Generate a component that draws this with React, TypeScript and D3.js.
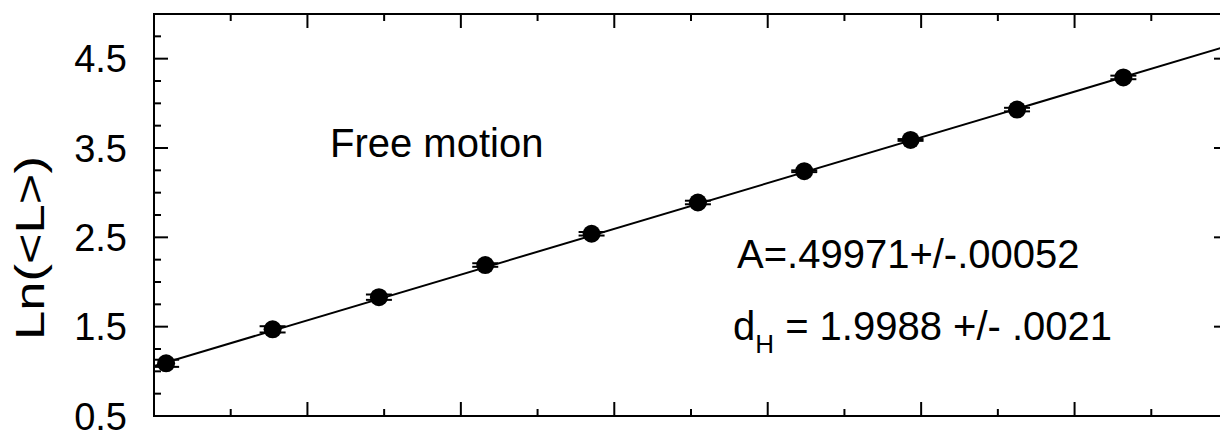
import { useEffect } from 'react';
import * as d3 from 'd3';

// ln(N) positions and measured ln(<L>) with their (tiny) errors
const lnN = [2.079, 2.773, 3.466, 4.159, 4.852, 5.545, 6.238, 6.931, 7.625, 8.318];
const lnL = [1.09, 1.47, 1.83, 2.19, 2.54, 2.89, 3.24, 3.59, 3.93, 4.29];
const lnLErr = [0.04, 0.035, 0.03, 0.02, 0.02, 0.02, 0.01, 0.01, 0.02, 0.02];

// straight-line fit drawn over the points
const fitIntercept = 0.035;
const fitSlope = 0.512;

const yMajorTicks = [0.5, 1.5, 2.5, 3.5, 4.5];
const yTickLabels = ['0.5', '1.5', '2.5', '3.5', '4.5'];
const xDomain = [2, 9];
const yDomain = [0.5, 5.0];

const W = 1220;
const H = 434;
const left = 154;
const right = 1228;
const top = 14;
const bottom = 416;
const FONT = 'Liberation Sans, Arial, Helvetica, sans-serif';

function App() {
  useEffect(() => {
    document.body.style.margin = '0';
  }, []);

  const x = d3.scaleLinear().domain(xDomain).range([left, right]);
  const y = d3.scaleLinear().domain(yDomain).range([bottom, top]);

  const xMinor = d3.range(xDomain[0], xDomain[1] + 0.001, 0.5);
  const yMinor = d3.range(yDomain[0], yDomain[1] + 0.001, 0.25);
  const isMajorX = (v) => Math.abs(v - Math.round(v)) < 1e-6;
  const isMajorY = (v) => yMajorTicks.some((t) => Math.abs(t - v) < 1e-6);

  const line = d3
    .line()
    .x((d) => x(d))
    .y((d) => y(fitIntercept + fitSlope * d));

  const pts = lnN.map((v, i) => ({ x: v, y: lnL[i], e: lnLErr[i] }));

  return (
    <svg width={W} height={H} style={{ display: 'block' }} fontFamily={FONT}>
      <defs>
        <clipPath id="plot">
          <rect x={left} y={top} width={right - left} height={bottom - top} />
        </clipPath>
      </defs>
      <rect width={W} height={H} fill="#fff" />

      {/* ticks on all four sides */}
      <g stroke="#000" strokeWidth={2}>
        {xMinor.map((v) => {
          const len = isMajorX(v) ? 14 : 7;
          return (
            <g key={'x' + v}>
              <line x1={x(v)} x2={x(v)} y1={bottom} y2={bottom - len} />
              <line x1={x(v)} x2={x(v)} y1={top} y2={top + len} />
            </g>
          );
        })}
        {yMinor.map((v) => {
          const len = isMajorY(v) ? 14 : 7;
          return (
            <g key={'y' + v}>
              <line x1={left} x2={left + len} y1={y(v)} y2={y(v)} />
              <line x1={right} x2={right - len} y1={y(v)} y2={y(v)} />
            </g>
          );
        })}
        <rect x={left} y={top} width={right - left} height={bottom - top} fill="none" />
      </g>

      {/* y tick labels */}
      <g fontSize={38} textAnchor="end" fill="#000">
        {yMajorTicks.map((v, i) => (
          <text key={v} x={127} y={y(v) + 13.5}>
            {yTickLabels[i]}
          </text>
        ))}
      </g>

      <text
        transform="translate(44,248) rotate(-90)"
        textAnchor="middle"
        fontSize={40}
        textLength={184}
        lengthAdjust="spacingAndGlyphs"
        fill="#000"
      >
        Ln(&lt;L&gt;)
      </text>

      <g clipPath="url(#plot)">
        <path d={line(xDomain)} fill="none" stroke="#000" strokeWidth={2} />
        {pts.map((p, i) => (
          <g key={i} stroke="#000" strokeWidth={2}>
            <line x1={x(p.x)} x2={x(p.x)} y1={y(p.y - p.e)} y2={y(p.y + p.e)} />
            <line x1={x(p.x) - 13} x2={x(p.x) + 13} y1={y(p.y - p.e)} y2={y(p.y - p.e)} />
            <line x1={x(p.x) - 13} x2={x(p.x) + 13} y1={y(p.y + p.e)} y2={y(p.y + p.e)} />
            <circle cx={x(p.x)} cy={y(p.y)} r={9} fill="#000" stroke="none" />
          </g>
        ))}
      </g>

      <g fontSize={40} fill="#000">
        <text x={330} y={157}>Free motion</text>
        <text x={737} y={268}>A=.49971+/-.00052</text>
        <text x={733} y={340}>
          d
          <tspan fontSize={26} dy={13}>H</tspan>
          <tspan dy={-13}> = 1.9988 +/- .0021</tspan>
        </text>
      </g>
    </svg>
  );
}

export default App;
